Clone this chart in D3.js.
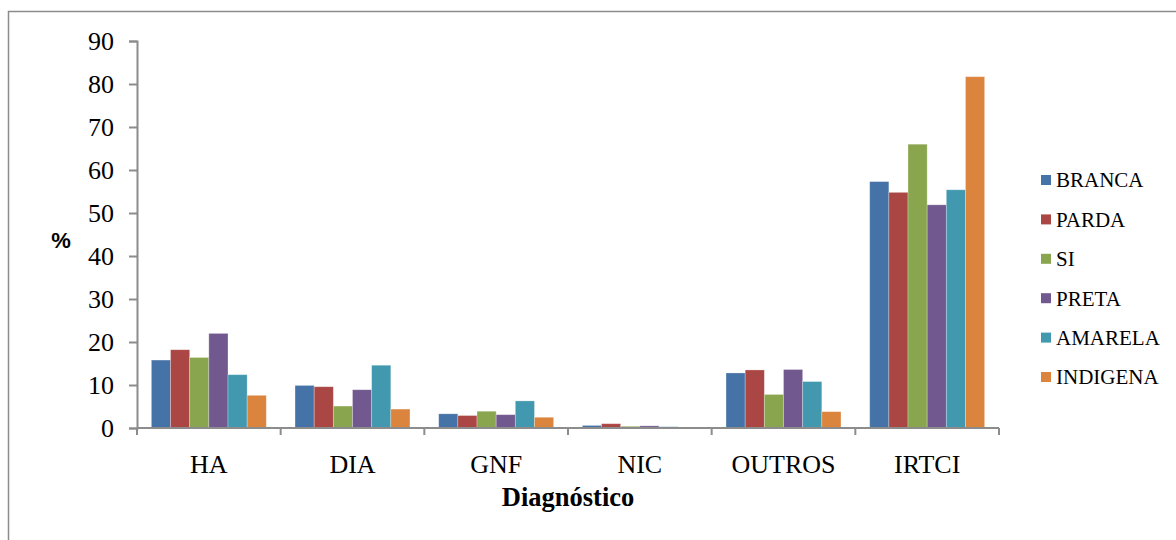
<!DOCTYPE html>
<html>
<head>
<meta charset="utf-8">
<script src="https://cdn.jsdelivr.net/npm/d3@7"></script>
<style>
  html, body { margin: 0; padding: 0; background: #fff; }
  svg { display: block; }
</style>
</head>
<body>
<svg id="chart" width="1176" height="540"></svg>
<script>
// Diagnoses and race/colour groups (percent)
const categories = ["HA", "DIA", "GNF", "NIC", "OUTROS", "IRTCI"];
const seriesNames = ["BRANCA", "PARDA", "SI", "PRETA", "AMARELA", "INDIGENA"];
const seriesColors = ["#4572A7", "#AA4643", "#89A54E", "#71588F", "#4198AF", "#DB843D"];
const branca   = [15.8, 9.9, 3.3, 0.6, 12.8, 57.3];
const parda    = [18.2, 9.6, 2.9, 1.0, 13.5, 54.8];
const si       = [16.4, 5.1, 3.9, 0.4, 7.8, 66.0];
const preta    = [22.0, 8.9, 3.1, 0.5, 13.6, 51.9];
const amarela  = [12.4, 14.6, 6.3, 0.3, 10.8, 55.4];
const indigena = [7.6, 4.4, 2.5, 0.0, 3.8, 81.7];
const yTicks = [0, 10, 20, 30, 40, 50, 60, 70, 80, 90];

const seriesValues = [branca, parda, si, preta, amarela, indigena];

const svg = d3.select("#chart");
const axisColor = "#8c8c8c";
const serif = "'Liberation Serif', 'Times New Roman', serif";

// outer frame
svg.append("rect")
  .attr("x", 8.5).attr("y", 11.5)
  .attr("width", 1300).attr("height", 700)
  .attr("fill", "none").attr("stroke", axisColor).attr("stroke-width", 1.5);

const plot = { left: 137, right: 999, top: 41, bottom: 428 };

const x = d3.scaleBand().domain(categories).range([plot.left, plot.right]).padding(0);
const xs = d3.scaleBand().domain(seriesNames).range([0, x.bandwidth()])
  .paddingInner(0).paddingOuter(0.75);
const y = d3.scaleLinear().domain([0, 90]).range([plot.bottom, plot.top]);

// bars
const groups = svg.append("g").selectAll("g")
  .data(seriesNames)
  .join("g")
  .attr("fill", (d, i) => seriesColors[i]);

groups.selectAll("rect")
  .data((s, si) => categories.map((c, ci) => ({ c, s, v: seriesValues[si][ci] })))
  .join("rect")
  .attr("x", d => x(d.c) + xs(d.s))
  .attr("width", xs.bandwidth())
  .attr("y", d => y(d.v))
  .attr("height", d => y(0) - y(d.v))
  .attr("stroke", "rgba(255,255,255,0.35)")
  .attr("stroke-width", 0.8);

// y axis
const yAxis = svg.append("g")
  .attr("transform", `translate(${plot.left},0)`)
  .call(d3.axisLeft(y).tickValues(yTicks).tickSize(8).tickPadding(15).tickFormat(d3.format("d")));
yAxis.select(".domain").attr("stroke", axisColor).attr("stroke-width", 2);
yAxis.selectAll(".tick line").attr("stroke", axisColor).attr("stroke-width", 2);
yAxis.selectAll("text")
  .attr("font-family", serif).attr("font-size", 26).attr("fill", "#000");

// x axis: ticks at category boundaries
const xAxis = svg.append("g")
  .attr("transform", `translate(0,${plot.bottom})`);
xAxis.append("line")
  .attr("x1", plot.left).attr("x2", plot.right)
  .attr("stroke", axisColor).attr("stroke-width", 2);
const boundaries = categories.map(c => x(c)).concat([x(categories[categories.length - 1]) + x.bandwidth()]);
xAxis.selectAll("line.tk")
  .data(boundaries)
  .join("line")
  .attr("class", "tk")
  .attr("x1", d => d).attr("x2", d => d)
  .attr("y1", 0).attr("y2", 7)
  .attr("stroke", axisColor).attr("stroke-width", 2);
xAxis.selectAll("text")
  .data(categories)
  .join("text")
  .attr("x", d => x(d) + x.bandwidth() / 2)
  .attr("y", 45)
  .attr("text-anchor", "middle")
  .attr("font-family", serif).attr("font-size", 26).attr("fill", "#000")
  .text(d => d);

// axis titles
svg.append("text")
  .attr("x", (plot.left + plot.right) / 2).attr("y", 506)
  .attr("text-anchor", "middle")
  .attr("font-family", serif).attr("font-size", 26.5).attr("font-weight", "bold")
  .text("Diagnóstico");

svg.append("text")
  .attr("x", 61).attr("y", 248)
  .attr("text-anchor", "middle")
  .attr("font-family", "'Liberation Sans', Arial, sans-serif").attr("font-size", 22).attr("font-weight", "bold")
  .text("%");

// legend
const legend = svg.append("g").selectAll("g")
  .data(seriesNames)
  .join("g")
  .attr("transform", (d, i) => `translate(1041,${180 + i * 39.4})`);
legend.append("rect")
  .attr("x", 0).attr("y", -5).attr("width", 10).attr("height", 10)
  .attr("fill", (d, i) => seriesColors[i]);
legend.append("text")
  .attr("x", 15).attr("y", 0).attr("dy", "0.35em")
  .attr("font-family", serif).attr("font-size", 21).attr("fill", "#000")
  .text(d => d);
</script>
</body>
</html>
